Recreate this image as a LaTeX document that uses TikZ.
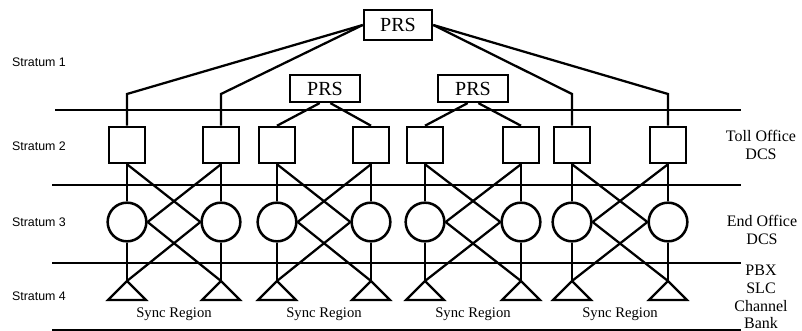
\documentclass[tikz,border=0pt]{standalone}
\usepackage{fontspec}
\setmainfont{Liberation Serif}
\newfontfamily\labelfont{Liberation Sans}
\begin{document}
\begin{tikzpicture}[x=0.75pt,y=-0.75pt,line width=1.7pt,line join=miter,
  prsbox/.style={draw,line width=1.9pt,inner sep=0pt,font=\fontsize{15}{15}\selectfont},
  dcsbox/.style={draw,line width=1.9pt,minimum size=27pt,inner sep=0pt},
  eodcs/.style={draw,circle,line width=1.9pt,minimum size=29pt,inner sep=0pt},
  level/.style={line width=1.6pt},
  stratum/.style={anchor=west,inner sep=0pt,font=\labelfont\fontsize{9.3}{11}\selectfont},
  kind/.style={align=center,inner sep=0pt,font=\fontsize{12}{13.3}\selectfont},
  region/.style={inner sep=0pt,font=\fontsize{11}{13}\selectfont}]
\useasboundingbox (0,0) rectangle (802,331);

% stratum boundaries
\draw[level] (55,110) -- (741,110);
\draw[level] (52,185) -- (741,185);
\draw[level] (52,263) -- (741,263);
\draw[level] (52,330) -- (741,330);

% stratum names
\node[stratum] (st1) at (11,62) {Stratum 1};
\node[stratum] (st2) at (11,146) {Stratum 2};
\node[stratum] (st3) at (11,222) {Stratum 3};
\node[stratum] (st4) at (11,296) {Stratum 4};

% equipment classes
\node[kind] (tdcs) at (761,145) {Toll Office\\DCS};
\node[kind] (edcs) at (762,230) {End Office\\DCS};
\node[kind] (pbx) at (761,297) {PBX\\SLC\\Channel\\Bank};

% primary reference sources
\node[prsbox,minimum width=51pt,minimum height=22.5pt] (prs0) at (398,25) {PRS};
\node[prsbox,minimum width=52.5pt,minimum height=20pt] (prs1) at (325,88.5) {PRS};
\node[prsbox,minimum width=52.5pt,minimum height=20pt] (prs2) at (473,88.5) {PRS};

% toll office DCS, end office DCS and stratum 4 equipment, one column each
\foreach \i/\x in {1/127,2/221,3/277,4/371,5/425,6/521,7/572,8/668}{
  \node[dcsbox] (s\i) at (\x,145) {};
  \node[eodcs] (c\i) at (\x,222) {};
  \coordinate (t\i) at (\x,281);
  \draw (t\i) -- ++(-19,19) -- ++(38,0) -- cycle;
  \draw (s\i) -- (c\i);
  \draw (c\i) -- (t\i);
}

% cross links inside each sync region
\foreach \a/\b in {1/2,3/4,5/6,7/8}{
  \draw (s\a.south) -- (c\b.west);
  \draw (s\b.south) -- (c\a.east);
  \draw (c\a.east) -- (t\b);
  \draw (c\b.west) -- (t\a);
}

% sync region names
\node[region] (r1) at (174,314) {Sync Region};
\node[region] (r2) at (324,314) {Sync Region};
\node[region] (r3) at (473,314) {Sync Region};
\node[region] (r4) at (620,314) {Sync Region};

% timing from the top PRS
\coordinate (k1) at (127,94);
\coordinate (k2) at (221,94);
\coordinate (k7) at (572,94);
\coordinate (k8) at (668,94);
\draw (prs0.west) -- (k1) -- (s1.north);
\draw (prs0.west) -- (k2) -- (s2.north);
\draw (prs0.east) -- (k7) -- (s7.north);
\draw (prs0.east) -- (k8) -- (s8.north);

% timing from the stratum 1 PRSs
\draw ([xshift=-4pt]prs1.south) -- (s3.north);
\draw ([xshift=4pt]prs1.south) -- (s4.north);
\draw ([xshift=-4pt]prs2.south) -- (s5.north);
\draw ([xshift=4pt]prs2.south) -- (s6.north);
\end{tikzpicture}
\end{document}
